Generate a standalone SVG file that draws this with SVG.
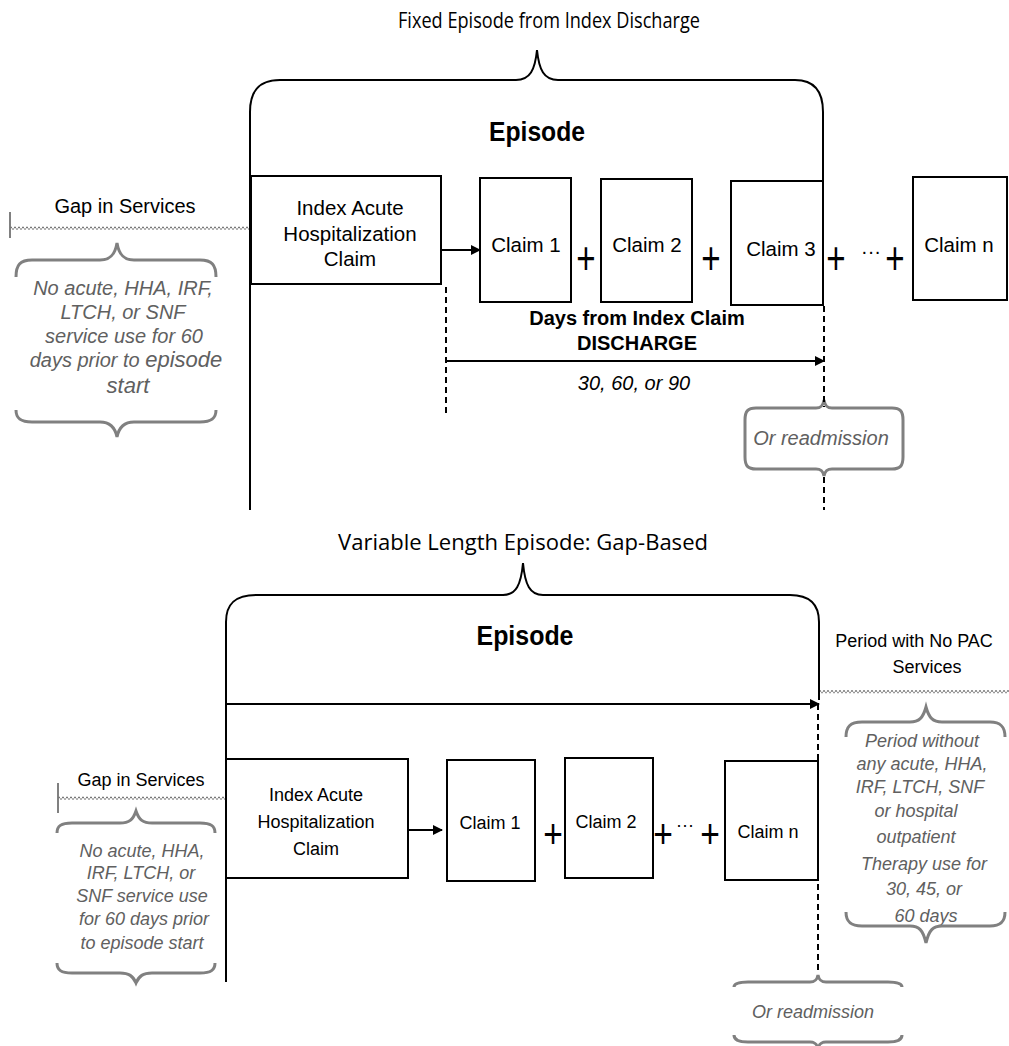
<svg xmlns="http://www.w3.org/2000/svg" width="1009" height="1046" viewBox="0 0 1009 1046">
<defs>
<marker id="ah" markerWidth="10" markerHeight="10" refX="9" refY="5" orient="auto" markerUnits="userSpaceOnUse">
<path d="M0,0 L10,5 L0,10 Z" fill="#000"/>
</marker>
<style>
.box{fill:#fff;stroke:#000;stroke-width:2}
.ln{stroke:#000;stroke-width:2;fill:none}
.dash{stroke:#000;stroke-width:2;fill:none;stroke-dasharray:6 4}
.br{stroke:#000;stroke-width:2;fill:none}
.gbr{stroke:#808080;stroke-width:3;fill:none}
.wv1{stroke:#777;stroke-width:1.6;stroke-dasharray:2 2;fill:none}
.wv2{stroke:#999;stroke-width:1.6;stroke-dasharray:2 2;stroke-dashoffset:2;fill:none}
.tick{stroke:#808080;stroke-width:2}
.t{font-family:"Liberation Sans",Arial,sans-serif;fill:#000;text-anchor:middle}
.b{font-weight:bold}
.g{font-family:"Liberation Sans",Arial,sans-serif;fill:#606060;font-style:italic;text-anchor:middle}
.title{font-family:"Open Sans","Noto Sans",sans-serif;fill:#000;text-anchor:middle;font-size:22px}
.pl{font-family:"Liberation Sans",Arial,sans-serif;fill:#000;text-anchor:middle}
</style>
</defs>

<!-- ===== TOP SECTION ===== -->
<text class="title" x="549" y="28" textLength="302" lengthAdjust="spacingAndGlyphs">Fixed Episode from Index Discharge</text>

<g id="top-brace">
<path class="br" d="M250,112 C250,92 258,80 280,80 L516,80 C530,80 535,70 537,50 C539,70 544,80 558,80 L795,80 C815,80 823,92 823,112"/>
<text class="t b" x="537" y="141" font-size="28" textLength="96" lengthAdjust="spacingAndGlyphs">Episode</text>
</g>

<g id="top-gap">
<text class="t" x="125" y="213" font-size="20">Gap in Services</text>
<line class="tick" x1="10" y1="212" x2="10" y2="238"/>
<line class="wv1" x1="10" y1="227.5" x2="250" y2="227.5"/>
<line class="wv2" x1="10" y1="229" x2="250" y2="229"/>
<line class="tick" x1="252" y1="216" x2="252" y2="240" stroke-dasharray="4 2"/>
</g>

<g id="top-gap-note">
<path class="gbr" d="M16,277 C16,265 20,260 32,260 L100,260 C110,260 115,255 117,243 C119,255 124,260 134,260 L200,260 C212,260 216,265 216,277"/>
<text class="g" font-size="20"><tspan x="123" y="295">No acute, HHA, IRF,</tspan><tspan x="123" y="319">LTCH, or SNF</tspan><tspan x="124" y="343">service use for 60</tspan><tspan x="126" y="367">days prior to <tspan font-size="22">episode</tspan></tspan><tspan x="128" y="393" font-size="22">start</tspan></text>
<path class="gbr" d="M16,410 C16,418 20,422 32,422 L100,422 C110,422 115,427 117,437 C119,427 124,422 134,422 L200,422 C212,422 216,418 216,410"/>
</g>

<g id="top-index">
<rect class="box" x="251" y="176" width="190" height="108"/>
<text class="t" font-size="20.5"><tspan x="350" y="215">Index Acute</tspan><tspan x="350" y="241">Hospitalization</tspan><tspan x="350" y="266">Claim</tspan></text>
</g>
<g id="top-claim1">
<rect class="box" x="480" y="178" width="91" height="124"/>
<text class="t" x="526" y="252" font-size="20.5">Claim 1</text>
</g>
<g id="top-claim2">
<rect class="box" x="601" y="179" width="91" height="123"/>
<text class="t" x="647" y="252" font-size="20.5">Claim 2</text>
</g>
<g id="top-claim3">
<rect class="box" x="731" y="181" width="92" height="124"/>
<text class="t" x="781" y="256" font-size="20.5">Claim 3</text>
</g>
<g id="top-claimn">
<rect class="box" x="913" y="177" width="94" height="123"/>
<text class="t" x="959" y="252" font-size="20.5">Claim n</text>
</g>
<g id="top-plus">
<text class="pl" transform="translate(586,274) scale(0.72,1)" font-size="46">+</text>
<text class="pl" transform="translate(711,274) scale(0.72,1)" font-size="46">+</text>
<text class="pl" transform="translate(836,274) scale(0.72,1)" font-size="46">+</text>
<text class="t" x="871" y="258" font-size="20">···</text>
<text class="pl" transform="translate(895,274) scale(0.72,1)" font-size="46">+</text>
</g>

<g id="top-days">
<text class="t b" font-size="20"><tspan x="637" y="325">Days from Index Claim</tspan><tspan x="637" y="350">DISCHARGE</tspan></text>
<text class="t" x="634" y="390" font-size="20" font-style="italic">30, 60, or 90</text>
</g>

<g id="top-readmission">
<path class="gbr" d="M745,420 C745,411 748,408 756,408 L816,408 C821,408 823,406 824,400 C825,406 827,408 832,408 L892,408 C900,408 903,411 903,420 L903,457 C903,466 900,469 892,469 L832,469 C827,469 825,471 824,476 C823,471 821,469 816,469 L756,469 C748,469 745,466 745,457 Z"/>
<text class="g" x="821" y="445" font-size="20">Or readmission</text>
</g>

<!-- ===== BOTTOM SECTION ===== -->
<text class="title" x="523" y="550" textLength="370" lengthAdjust="spacingAndGlyphs">Variable Length Episode: Gap-Based</text>

<g id="bottom-brace">
<path class="br" d="M226,622 C226,605 234,595 256,595 L503,595 C516,595 521,585 523,563 C525,585 530,595 543,595 L790,595 C810,595 819,605 819,622"/>
<text class="t b" x="525" y="645" font-size="28" textLength="97" lengthAdjust="spacingAndGlyphs">Episode</text>
</g>

<g id="bottom-period">
<text class="t" x="914" y="647" font-size="18">Period with No PAC</text>
<text class="t" x="927" y="673" font-size="18">Services</text>
<line class="wv1" x1="819" y1="691" x2="1009" y2="691"/>
<line class="wv2" x1="819" y1="692.5" x2="1009" y2="692.5"/>
</g>

<g id="bottom-period-note">
<path class="gbr" d="M846,737 C846,727 850,722 862,722 L910,722 C919,722 923,718 926,707 C929,718 933,722 942,722 L990,722 C1001,722 1005,727 1005,737"/>
<text class="g" font-size="18"><tspan x="922" y="747">Period without</tspan><tspan x="922" y="770">any acute, HHA,</tspan><tspan x="920" y="793">IRF, LTCH, SNF</tspan><tspan x="916" y="817">or hospital</tspan><tspan x="916" y="843">outpatient</tspan><tspan x="924" y="870">Therapy use for</tspan><tspan x="924" y="895">30, 45, or</tspan><tspan x="926" y="922">60 days</tspan></text>
<path class="gbr" d="M846,912 C846,921 850,926 862,926 L910,926 C919,926 923,930 926,943 C929,930 933,926 942,926 L990,926 C1001,926 1005,921 1005,912"/>
</g>

<g id="bottom-gap">
<text class="t" x="141" y="786" font-size="18">Gap in Services</text>
<line class="tick" x1="58" y1="783" x2="58" y2="813"/>
<line class="wv1" x1="58" y1="797.5" x2="226" y2="797.5"/>
<line class="wv2" x1="58" y1="799" x2="226" y2="799"/>
</g>

<g id="bottom-gap-note">
<path class="gbr" d="M57,833 C57,826 61,823 72,823 L120,823 C129,823 133,820 136,811 C139,820 143,823 152,823 L200,823 C211,823 215,826 215,833"/>
<text class="g" font-size="18"><tspan x="142" y="857">No acute, HHA,</tspan><tspan x="141" y="879">IRF, LTCH, or</tspan><tspan x="142" y="902">SNF service use</tspan><tspan x="144" y="925">for 60 days prior</tspan><tspan x="142" y="949">to  episode start</tspan></text>
<path class="gbr" d="M57,963 C57,970 61,973 72,973 L120,973 C129,973 133,976 136,983 C139,976 143,973 152,973 L200,973 C211,973 215,970 215,963"/>
</g>

<g id="bottom-index">
<rect class="box" x="226" y="759" width="182" height="119"/>
<text class="t" font-size="18"><tspan x="316" y="801">Index Acute</tspan><tspan x="316" y="828">Hospitalization</tspan><tspan x="316" y="855">Claim</tspan></text>
</g>
<g id="bottom-claim1">
<rect class="box" x="447" y="760" width="88" height="121"/>
<text class="t" x="490" y="829" font-size="18">Claim 1</text>
</g>
<g id="bottom-claim2">
<rect class="box" x="565" y="758" width="88" height="120"/>
<text class="t" x="606" y="828" font-size="18">Claim 2</text>
</g>
<g id="bottom-claimn">
<rect class="box" x="725" y="761" width="93" height="119"/>
<text class="t" x="768" y="838" font-size="18">Claim n</text>
</g>
<g id="bottom-plus">
<text class="pl" transform="translate(553,848) scale(0.84,1)" font-size="40">+</text>
<text class="pl" transform="translate(663,848) scale(0.84,1)" font-size="40">+</text>
<text class="t" x="685" y="831" font-size="18">···</text>
<text class="pl" transform="translate(710,848) scale(0.84,1)" font-size="40">+</text>
</g>

<g id="bottom-readmission">
<path class="gbr" d="M734,987 C734,984 738,982 748,982 L810,982 C815,982 817,980 818,975 C819,980 821,982 826,982 L888,982 C898,982 902,984 902,987"/>
<text class="g" x="813" y="1018" font-size="18">Or readmission</text>
<path class="gbr" d="M734,1035 C734,1039 738,1042 748,1042 L810,1042 C815,1042 817,1044 818,1049 C819,1044 821,1042 826,1042 L888,1042 C898,1042 902,1039 902,1035"/>
</g>

<!-- ===== CONNECTORS ===== -->
<g id="connectors">
<line class="ln" x1="250" y1="112" x2="250" y2="510"/>
<line class="ln" x1="823" y1="112" x2="823" y2="181"/>
<line class="ln" x1="441" y1="250" x2="480" y2="250" marker-end="url(#ah)"/>
<line class="dash" x1="446" y1="287" x2="446" y2="413"/>
<line class="dash" x1="824" y1="306" x2="824" y2="407"/>
<line class="dash" x1="824" y1="477" x2="824" y2="510"/>
<line class="ln" x1="446" y1="361" x2="824" y2="361" marker-end="url(#ah)"/>

<line class="ln" x1="226" y1="622" x2="226" y2="982"/>
<line class="ln" x1="819" y1="622" x2="819" y2="700"/>
<line class="ln" x1="226" y1="704" x2="819" y2="704" marker-end="url(#ah)"/>
<line class="dash" x1="818" y1="704" x2="818" y2="972"/>
<line class="ln" x1="408" y1="830" x2="442" y2="830" marker-end="url(#ah)"/>
</g>
</svg>
